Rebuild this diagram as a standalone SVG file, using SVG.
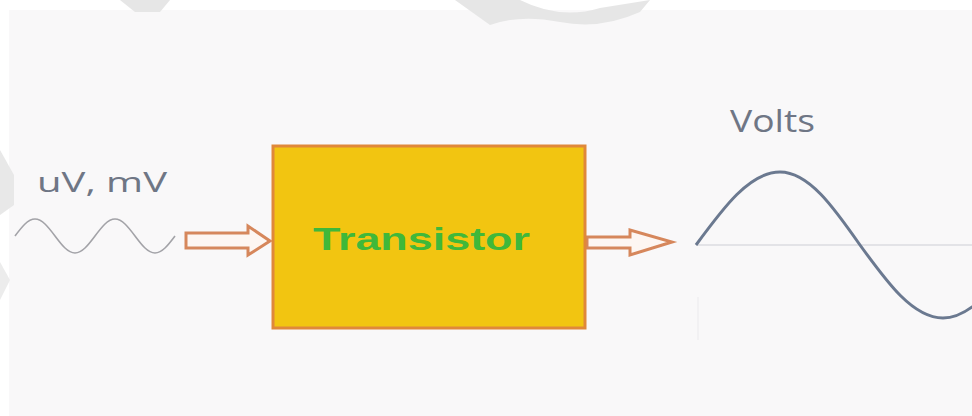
<svg xmlns="http://www.w3.org/2000/svg" width="972" height="416" viewBox="0 0 972 416">
  <style>
    .lbl { font-family: "Open Sans", "DejaVu Sans", sans-serif; fill: #6f7685; }
    .title { font-family: "Liberation Sans", Arial, sans-serif; font-weight: bold; fill: #3fb83a; }
    .arrow { fill: #fdf6f2; stroke: #d6875c; stroke-width: 3; stroke-linejoin: miter; }
  </style>
  <rect x="0" y="0" width="972" height="416" fill="#ffffff"/>
  <rect x="9" y="10" width="963" height="406" fill="#f9f8f9"/>
  <!-- faint watermark shapes -->
  <path d="M120,0 L170,0 L160,12 L135,12 Z" fill="#e6e6e6"/>
  <path d="M455,0 L520,0 Q560,20 600,8 L650,0 L640,12 Q600,30 560,22 Q520,14 490,25 Z" fill="#e6e6e6"/>
  <path d="M0,150 L14,175 L14,205 L0,215 Z" fill="#e8e8e8"/>
  <path d="M0,262 L10,280 L0,300 Z" fill="#ececec"/>

  <g id="connectors">
    <polygon class="arrow" points="186,233 248,233 248,226 270,241 248,255 248,248 186,248"/>
    <polygon class="arrow" points="587,237 630,237 630,230 672,242 630,255 630,248 587,248"/>
  </g>

  <g id="input-signal">
    <text class="lbl" x="37" y="192" font-size="28" textLength="130" lengthAdjust="spacingAndGlyphs">uV, mV</text>
    <path d="M15,236 C21.5,227.3 27.8,219 35,219 C42.2,219 48.5,227.3 55,236 C61.5,244.7 67.8,253 75,253 C82.2,253 88.5,244.7 95,236 C101.5,227.3 107.8,219 115,219 C122.2,219 128.5,227.3 135,236 C141.5,244.7 147.8,253 155,253 C162.2,253 168.5,244.7 175,236" fill="none" stroke="#a3a3a8" stroke-width="1.6"/>
  </g>

  <g id="transistor">
    <rect x="273" y="146" width="312" height="182" fill="#f2c511" stroke="#e0883a" stroke-width="3"/>
    <text class="title" x="313" y="250" font-size="32" textLength="217" lengthAdjust="spacingAndGlyphs">Transistor</text>
  </g>

  <g id="output-signal">
    <text class="lbl" x="730" y="132" font-size="31" textLength="85" lengthAdjust="spacingAndGlyphs">Volts</text>
    <line x1="696" y1="245" x2="972" y2="245" stroke="#e3e3e7" stroke-width="2"/>
    <line x1="698" y1="297" x2="698" y2="340" stroke="#efeff1" stroke-width="1.5"/>
    <path d="M696,245 C723.4,207.6 749.6,172 780,172 C808.9,172 833.9,207.6 860,245 C887.1,282.4 912.9,318 943,318 C972.7,318 998.3,282.6 1025,245" fill="none" stroke="#6b7990" stroke-width="3"/>
  </g>
</svg>
